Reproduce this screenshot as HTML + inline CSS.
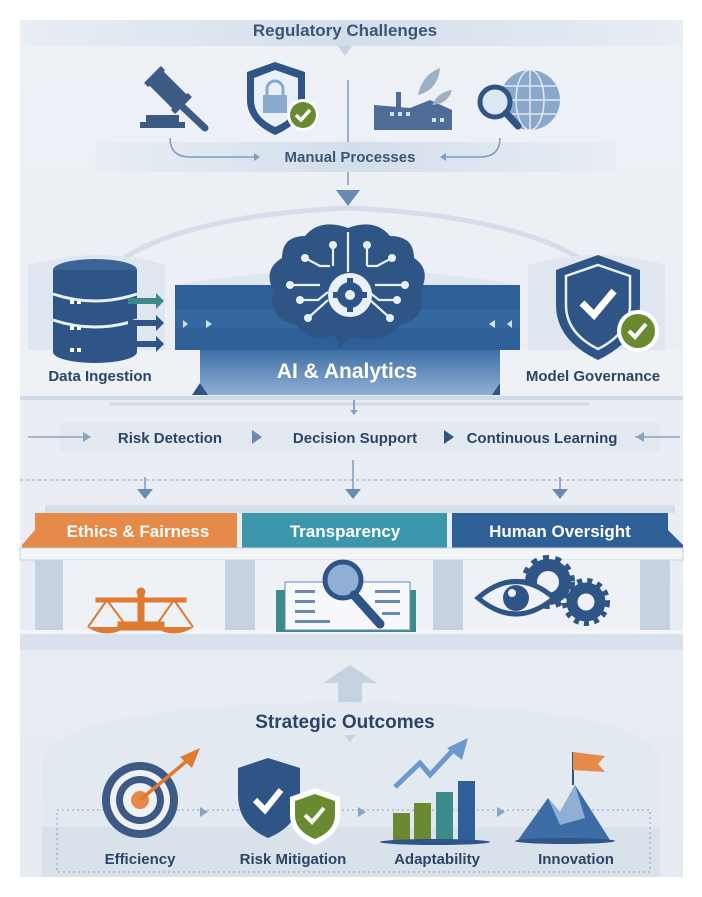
<!DOCTYPE html>
<html><head><meta charset="utf-8"><style>
html,body{margin:0;padding:0;background:#fff;}
svg{display:block;}
text{font-family:"Liberation Sans",sans-serif;font-weight:bold;}
</style></head><body>
<svg width="702" height="897" viewBox="0 0 702 897" xmlns="http://www.w3.org/2000/svg">
<defs>
<linearGradient id="bg" x1="0" y1="0" x2="0" y2="1"><stop offset="0" stop-color="#eef1f6"/><stop offset="1" stop-color="#e6ebf2"/></linearGradient>
<linearGradient id="ai" x1="0" y1="0" x2="0" y2="1"><stop offset="0" stop-color="#3f6fa6"/><stop offset="1" stop-color="#8fb0d4"/></linearGradient>
<linearGradient id="band" x1="0" y1="0" x2="1" y2="0"><stop offset="0" stop-color="#e9eef5"/><stop offset=".5" stop-color="#d3deeb"/><stop offset="1" stop-color="#e9eef5"/></linearGradient>
</defs>
<rect x="20" y="20" width="663" height="857" fill="url(#bg)"/>
<!-- header -->
<rect x="20" y="20" width="663" height="26" fill="url(#band)"/>
<text x="345" y="36" font-size="17" fill="#3d5577" text-anchor="middle">Regulatory Challenges</text>
<path d="M338 46 L345 56 L352 46Z" fill="#c7d3e2"/>
<line x1="348" y1="80" x2="348" y2="185" stroke="#7f9bbd" stroke-width="1.5"/>
<!-- gavel -->
<g fill="#3d5a85">
<rect x="140" y="122" width="45" height="6"/><rect x="146" y="115" width="33" height="7"/>
<line x1="170" y1="95" x2="205" y2="128" stroke="#3d5a85" stroke-width="7" stroke-linecap="round"/>
<g transform="rotate(45 168 90)"><rect x="150" y="80" width="36" height="20" rx="2"/><rect x="146" y="78" width="6" height="24" rx="1"/><rect x="184" y="78" width="6" height="24" rx="1"/></g>
</g>
<!-- shield lock -->
<path d="M275 62 L305 72 L305 100 Q305 122 275 135 Q247 122 247 100 L247 72Z" fill="#2f5587"/>
<path d="M275 70 L298 78 L298 100 Q298 117 275 127 Q254 117 254 100 L254 78Z" fill="#eaf0f7"/>
<rect x="263" y="95" width="24" height="18" fill="#8aaad0"/><path d="M267 95 v-6 a8 8 0 0 1 16 0 v6" stroke="#8aaad0" stroke-width="3" fill="none"/>
<circle cx="303" cy="115" r="16" fill="#fff"/><circle cx="303" cy="115" r="13" fill="#6a8a32"/>
<path d="M296 115 l5 5 l9 -10" stroke="#fff" stroke-width="3.5" fill="none"/>
<!-- factory -->
<g fill="#4d6d98"><rect x="396" y="92" width="5" height="30"/><path d="M374 105 L374 130 L452 130 L452 110 L430 100 L410 108Z"/></g>
<g fill="#cfe0ef"><rect x="390" y="112" width="4" height="4"/><rect x="398" y="112" width="4" height="4"/><rect x="406" y="112" width="4" height="4"/><rect x="432" y="118" width="4" height="4"/><rect x="440" y="118" width="4" height="4"/></g>
<path d="M418 95 Q422 75 440 68 Q438 90 418 95Z" fill="#9db0c4"/><path d="M432 105 Q438 92 452 90 Q448 104 432 105Z" fill="#9db0c4"/>
<!-- globe -->
<circle cx="530" cy="100" r="30" fill="#8aa8cc"/>
<g stroke="#dfe8f2" stroke-width="1.5" fill="none"><ellipse cx="530" cy="100" rx="14" ry="30"/><line x1="530" y1="70" x2="530" y2="130"/><line x1="500" y1="100" x2="560" y2="100"/><line x1="504" y1="86" x2="556" y2="86"/><line x1="504" y1="114" x2="556" y2="114"/></g>
<circle cx="495" cy="102" r="15" fill="#dbe7f3" stroke="#2f5587" stroke-width="5"/>
<line x1="506" y1="113" x2="518" y2="126" stroke="#2f5587" stroke-width="7" stroke-linecap="round"/>
<!-- manual processes -->
<rect x="95" y="142" width="520" height="30" fill="url(#band)"/>
<path d="M170 138 Q170 157 190 157 L255 157" stroke="#7f9bbd" stroke-width="1.5" fill="none"/><path d="M254 153 L260 157 L254 161Z" fill="#7f9bbd"/>
<path d="M500 138 Q500 157 480 157 L445 157" stroke="#7f9bbd" stroke-width="1.5" fill="none"/><path d="M446 153 L440 157 L446 161Z" fill="#7f9bbd"/>
<text x="350" y="162" font-size="15" fill="#3d5577" text-anchor="middle">Manual Processes</text>
<path d="M336 190 L360 190 L348 206Z" fill="#6a8ab2"/>
<!-- arc -->
<path d="M70 330 Q90 220 348 208 Q610 220 640 330" stroke="#d4dde9" stroke-width="5" fill="none"/>
<!-- left panel -->
<path d="M28 265 Q100 245 165 265 L165 400 L28 400Z" fill="#dfe6ef"/>
<rect x="20" y="350" width="180" height="46" fill="#eef1f6"/>
<g>
<ellipse cx="95" cy="270" rx="42" ry="11" fill="#3b6496"/>
<rect x="53" y="270" width="84" height="82" fill="#2f5587"/>
<ellipse cx="95" cy="352" rx="42" ry="11" fill="#2f5587"/>
<g stroke="#eaf0f7" stroke-width="3" fill="none"><path d="M53 294 Q95 308 137 294"/><path d="M53 320 Q95 334 137 320"/></g>
<g fill="#fff"><rect x="70" y="300" width="4" height="4"/><rect x="77" y="300" width="4" height="4"/><rect x="70" y="326" width="4" height="4"/><rect x="77" y="326" width="4" height="4"/><rect x="70" y="348" width="4" height="4"/><rect x="77" y="348" width="4" height="4"/></g>
<path d="M128 298 h28 v-5 l8 8 l-8 8 v-5 h-28Z" fill="#3d8a8a"/>
<path d="M128 320 h28 v-5 l8 8 l-8 8 v-5 h-28Z" fill="#2f5587"/>
<path d="M128 341 h28 v-5 l8 8 l-8 8 v-5 h-28Z" fill="#2f5587"/>
</g>
<text x="100" y="381" font-size="15" fill="#2c4466" text-anchor="middle">Data Ingestion</text>
<!-- center -->
<path d="M175 285 Q348 255 520 285Z" fill="#dfe6ef"/>
<rect x="175" y="285" width="345" height="65" fill="#2f5f97"/>
<rect x="175" y="310" width="345" height="18" fill="#3b6da6" opacity=".6"/>
<path d="M200 350 L500 350 L500 395 L200 395Z" fill="url(#ai)"/>
<path d="M192 395 L200 383 L208 395Z" fill="#2f5587"/><path d="M492 395 L500 383 L508 395Z" fill="#2f5587"/>
<text x="347" y="378" font-size="21" fill="#fff" text-anchor="middle">AI &amp; Analytics</text>
<g fill="#cfe0f0"><path d="M183 320 l5 4 l-5 4Z"/><path d="M206 320 l6 4 l-6 4Z"/><path d="M495 320 l-6 4 l6 4Z"/><path d="M512 320 l-5 4 l5 4Z"/></g>
<!-- brain -->
<path d="M348 228 Q320 218 305 236 Q282 236 282 258 Q262 270 274 292 Q266 318 296 325 Q312 345 335 335 L340 348 L352 337 Q384 345 400 325 Q428 318 420 292 Q432 270 414 258 Q414 236 390 236 Q375 218 348 228Z" fill="#2f5587"/>
<g stroke="#eaf0f7" stroke-width="2.2" fill="none">
<line x1="348" y1="232" x2="348" y2="272"/>
<path d="M333 248 v18"/><path d="M367 248 v18"/>
<path d="M305 258 l15 8 h10"/><path d="M392 258 l-15 8 h-10"/>
<path d="M290 285 h30"/><path d="M405 285 h-30"/>
<path d="M300 300 h18 l10 -8"/><path d="M397 300 h-18 l-10 -8"/>
<path d="M308 318 l20 -18"/><path d="M390 318 l-20 -18"/>
</g>
<g fill="#eaf0f7"><circle cx="333" cy="245" r="4"/><circle cx="367" cy="245" r="4"/><circle cx="305" cy="258" r="4"/><circle cx="392" cy="258" r="4"/><circle cx="290" cy="285" r="4"/><circle cx="405" cy="285" r="4"/><circle cx="300" cy="300" r="4"/><circle cx="397" cy="300" r="4"/><circle cx="308" cy="318" r="4"/><circle cx="390" cy="318" r="4"/></g>
<circle cx="350" cy="295" r="22" fill="#eaf0f7"/>
<circle cx="350" cy="295" r="13" fill="#2f5587"/><circle cx="350" cy="295" r="5" fill="#eaf0f7"/>
<g fill="#2f5587"><rect x="347" y="278" width="6" height="6"/><rect x="347" y="306" width="6" height="6"/><rect x="333" y="292" width="6" height="6"/><rect x="361" y="292" width="6" height="6"/></g>
<!-- right panel -->
<path d="M528 265 Q600 245 665 265 L665 400 L528 400Z" fill="#dfe6ef"/>
<rect x="500" y="350" width="183" height="46" fill="#eef1f6"/>
<path d="M598 255 L640 270 L640 305 Q640 340 598 360 Q556 340 556 305 L556 270Z" fill="#2f5587"/>
<path d="M598 265 L630 276 L630 305 Q630 333 598 349 Q566 333 566 305 L566 276Z" fill="none" stroke="#eaf0f7" stroke-width="2.5"/>
<path d="M582 303 l12 12 l20 -24" stroke="#fff" stroke-width="7" fill="none"/>
<circle cx="638" cy="331" r="21" fill="#fff"/><circle cx="638" cy="331" r="17" fill="#6a8a32"/>
<path d="M629 331 l6 6 l11 -13" stroke="#fff" stroke-width="4" fill="none"/>
<text x="593" y="381" font-size="15" fill="#2c4466" text-anchor="middle">Model Governance</text>
<!-- lines -->
<rect x="20" y="396" width="663" height="4" fill="#d0dae6"/>
<line x1="110" y1="404" x2="590" y2="404" stroke="#d0dae6" stroke-width="3"/>
<line x1="354" y1="400" x2="354" y2="412" stroke="#8aa3c2" stroke-width="2"/><path d="M350 410 l4 5 l4 -5Z" fill="#8aa3c2"/>
<rect x="60" y="422" width="600" height="30" fill="#e3e9f1"/>
<line x1="28" y1="437" x2="85" y2="437" stroke="#8aa3c2" stroke-width="1.5"/><path d="M83 432 l8 5 l-8 5Z" fill="#8aa3c2"/>
<line x1="635" y1="437" x2="680" y2="437" stroke="#8aa3c2" stroke-width="1.5"/><path d="M644 432 l-8 5 l8 5Z" fill="#8aa3c2"/>
<text x="170" y="443" font-size="15" fill="#2c4466" text-anchor="middle">Risk Detection</text>
<path d="M252 430 l10 7 l-10 7Z" fill="#6a8ab2"/>
<text x="355" y="443" font-size="15" fill="#2c4466" text-anchor="middle">Decision Support</text>
<path d="M444 430 l10 7 l-10 7Z" fill="#2f5587"/>
<text x="542" y="443" font-size="15" fill="#2c4466" text-anchor="middle">Continuous Learning</text>
<line x1="20" y1="480" x2="683" y2="480" stroke="#8aa3c2" stroke-width="1" stroke-dasharray="3,3"/>
<g stroke="#7f9bbd" stroke-width="1.5"><line x1="145" y1="477" x2="145" y2="492"/><line x1="353" y1="460" x2="353" y2="492"/><line x1="560" y1="477" x2="560" y2="492"/></g>
<g fill="#6a8ab2"><path d="M137 489 l8 10 l8 -10Z"/><path d="M345 489 l8 10 l8 -10Z"/><path d="M552 489 l8 10 l8 -10Z"/></g>
<!-- temple -->
<rect x="45" y="505" width="630" height="8" fill="#d6dfea"/>
<path d="M22 545 L35 530 L35 513 L237 513 L237 548 L22 548Z" fill="#e58a48"/>
<rect x="242" y="513" width="205" height="35" fill="#3d97ac"/>
<path d="M452 513 L668 513 L668 530 L683 545 L683 548 L452 548Z" fill="#2f5f97"/>
<text x="138" y="537" font-size="17" fill="#fff" text-anchor="middle">Ethics &amp; Fairness</text>
<text x="345" y="537" font-size="17" fill="#fff" text-anchor="middle">Transparency</text>
<text x="560" y="537" font-size="17" fill="#fff" text-anchor="middle">Human Oversight</text>
<rect x="20" y="548" width="663" height="12" fill="#f3f5f9" stroke="#c9d3e0"/>
<rect x="35" y="560" width="635" height="72" fill="#eef2f7"/>
<g fill="#c6d2e0"><rect x="35" y="560" width="28" height="72"/><rect x="225" y="560" width="30" height="72"/><rect x="433" y="560" width="30" height="72"/><rect x="640" y="560" width="30" height="72"/></g>
<rect x="20" y="632" width="663" height="18" fill="#d8e1ec"/>
<rect x="20" y="630" width="663" height="4" fill="#f3f5f9"/>
<!-- scales -->
<g fill="#e07a30" stroke="#e07a30"><circle cx="141" cy="592" r="4"/><rect x="138" y="592" width="6" height="32"/><rect x="118" y="622" width="46" height="8"/><rect x="96" y="598" width="90" height="4"/>
<path d="M87 627 Q107 640 127 627Z" stroke="none"/><path d="M88 627 L107 600 L127 627" fill="none" stroke-width="2"/>
<path d="M154 627 Q174 640 194 627Z" stroke="none"/><path d="M155 627 L174 600 L193 627" fill="none" stroke-width="2"/></g>
<!-- doc magnifier -->
<rect x="276" y="590" width="140" height="42" fill="#3d8a8a"/>
<rect x="285" y="582" width="125" height="48" fill="#f6f8fb" stroke="#6a8ab2"/>
<g fill="#6a8ab2"><rect x="295" y="590" width="20" height="3"/><rect x="295" y="600" width="20" height="3"/><rect x="295" y="610" width="20" height="3"/><rect x="295" y="620" width="35" height="3"/><rect x="375" y="590" width="25" height="3"/><rect x="375" y="600" width="25" height="3"/><rect x="382" y="612" width="18" height="3"/></g>
<circle cx="343" cy="580" r="18" fill="#8fb0d4" stroke="#2f5587" stroke-width="5"/>
<line x1="354" y1="595" x2="380" y2="624" stroke="#2f5587" stroke-width="9" stroke-linecap="round"/>
<!-- eye gears -->
<circle cx="548" cy="582" r="17" fill="none" stroke="#2f5587" stroke-width="12"/>
<circle cx="548" cy="582" r="24" fill="none" stroke="#2f5587" stroke-width="6" stroke-dasharray="6,6"/>
<circle cx="586" cy="602" r="14" fill="none" stroke="#2f5587" stroke-width="11"/>
<circle cx="586" cy="602" r="21" fill="none" stroke="#2f5587" stroke-width="6" stroke-dasharray="5,5"/>
<path d="M478 598 Q516 565 554 598 Q516 630 478 598Z" fill="#eef2f7" stroke="#2f5587" stroke-width="5"/>
<circle cx="516" cy="598" r="13" fill="#2f5587"/><circle cx="512" cy="593" r="4" fill="#eef2f7"/>
<!-- up arrow -->
<path d="M323 683 L350 665 L377 683 L362 683 L362 710 L338 710 L338 683Z" fill="#c5d2e2"/>
<!-- outcomes panel -->
<path d="M42 760 Q60 705 348 702 Q650 705 660 760 L660 877 L42 877Z" fill="#e3e9f1"/>
<text x="345" y="728" font-size="19" fill="#2c4466" text-anchor="middle">Strategic Outcomes</text>
<path d="M345 735 l5 8 l5 -8Z" fill="#c5d2e2"/>
<rect x="42" y="827" width="618" height="50" fill="#d9e1eb"/>
<rect x="57" y="810" width="593" height="62" fill="none" stroke="#8aa3c2" stroke-dasharray="2,3"/>
<!-- target -->
<circle cx="140" cy="800" r="38" fill="#3d5a85"/><circle cx="140" cy="800" r="30" fill="#eef2f7"/><circle cx="140" cy="800" r="24" fill="#3d5a85"/><circle cx="140" cy="800" r="17" fill="#eef2f7"/><circle cx="140" cy="800" r="9" fill="#e58a48"/>
<line x1="140" y1="800" x2="188" y2="760" stroke="#e07a30" stroke-width="3.5"/><path d="M180 757 L200 748 L192 768Z" fill="#e07a30"/>
<path d="M200 807 l8 5 l-8 5Z" fill="#8aa3c2"/>
<!-- shields -->
<path d="M268 758 L300 768 L300 795 Q300 825 268 838 Q238 825 238 795 L238 768Z" fill="#2f5587"/>
<path d="M255 800 l10 10 l16 -20" stroke="#fff" stroke-width="6" fill="none"/>
<path d="M315 788 L340 797 L340 815 Q340 835 315 845 Q290 835 290 815 L290 797Z" fill="#fff"/>
<path d="M315 794 L335 801 L335 815 Q335 831 315 839 Q295 831 295 815 L295 801Z" fill="#6a8a32"/>
<path d="M305 815 l7 7 l12 -14" stroke="#fff" stroke-width="4" fill="none"/>
<path d="M358 807 l8 5 l-8 5Z" fill="#8aa3c2"/>
<!-- chart -->
<rect x="393" y="813" width="17" height="27" fill="#6a8a32"/><rect x="414" y="803" width="17" height="37" fill="#6a8a32"/><rect x="436" y="792" width="17" height="48" fill="#3d8a8a"/><rect x="458" y="781" width="17" height="59" fill="#2f5f97"/>
<path d="M395 787 L420 763 L430 775 L455 748" stroke="#6a9acb" stroke-width="5" fill="none"/><path d="M447 748 L468 738 L462 760Z" fill="#6a9acb"/>
<ellipse cx="435" cy="842" rx="55" ry="3" fill="#2f5587"/>
<path d="M497 807 l8 5 l-8 5Z" fill="#8aa3c2"/>
<!-- mountain -->
<path d="M518 840 L548 798 L560 812 L575 785 L610 840Z" fill="#3d6da6"/>
<path d="M548 798 L560 812 L575 785 L585 818 L560 825Z" fill="#8fb0d4"/>
<line x1="573" y1="785" x2="573" y2="752" stroke="#2f5587" stroke-width="2"/><path d="M573 752 L605 756 L598 764 L605 772 L573 770Z" fill="#e58a48"/>
<ellipse cx="565" cy="841" rx="50" ry="3" fill="#2f5587"/>
<g font-size="15" fill="#2c4466" text-anchor="middle"><text x="140" y="864">Efficiency</text><text x="293" y="864">Risk Mitigation</text><text x="437" y="864">Adaptability</text><text x="576" y="864">Innovation</text></g>
</svg>
</body></html>
